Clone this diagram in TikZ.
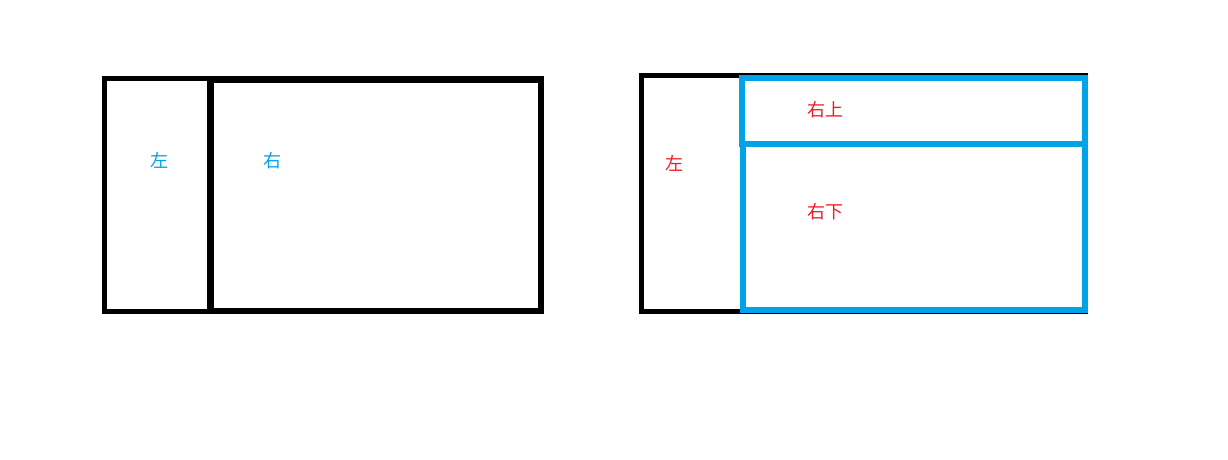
\documentclass[tikz,border=0pt]{standalone}
\usepackage{fontspec}
\usepackage{xcolor}
\newfontfamily\cjk{Noto Sans CJK SC}
\definecolor{paintblue}{RGB}{0,162,232}
\definecolor{paintred}{RGB}{237,28,36}

\begin{document}
\begin{tikzpicture}[x=1pt,y=-1pt,
    lbl/.style={font=\cjk\fontsize{18}{18}\selectfont,inner sep=0pt}]
  \useasboundingbox (0,0) rectangle (1228,460);
  % left layout
  \draw[line width=5pt] (104.5,78.5) rectangle ++(106,233);
  \draw[line width=6.5pt] (210.5,79.5) rectangle ++(330.5,231.5);
  \node (lleft) [lbl,text=paintblue] at (159,160) {左};
  \node (lright) [lbl,text=paintblue] at (272,161) {右};

  % right layout
  \draw[line width=5pt] (641.5,75.5) rectangle ++(444,236);
  \draw[paintblue,line width=6pt] (742,78) rectangle ++(342.5,65.5)
    rectangle ++(-342,166.5);
  \node (rleft) [lbl,text=paintred] at (674,163) {左};
  \node (rtop) [lbl,text=paintred] at (825,110) {右上};
  \node (rbottom) [lbl,text=paintred] at (825,212) {右下};
\end{tikzpicture}
\end{document}
